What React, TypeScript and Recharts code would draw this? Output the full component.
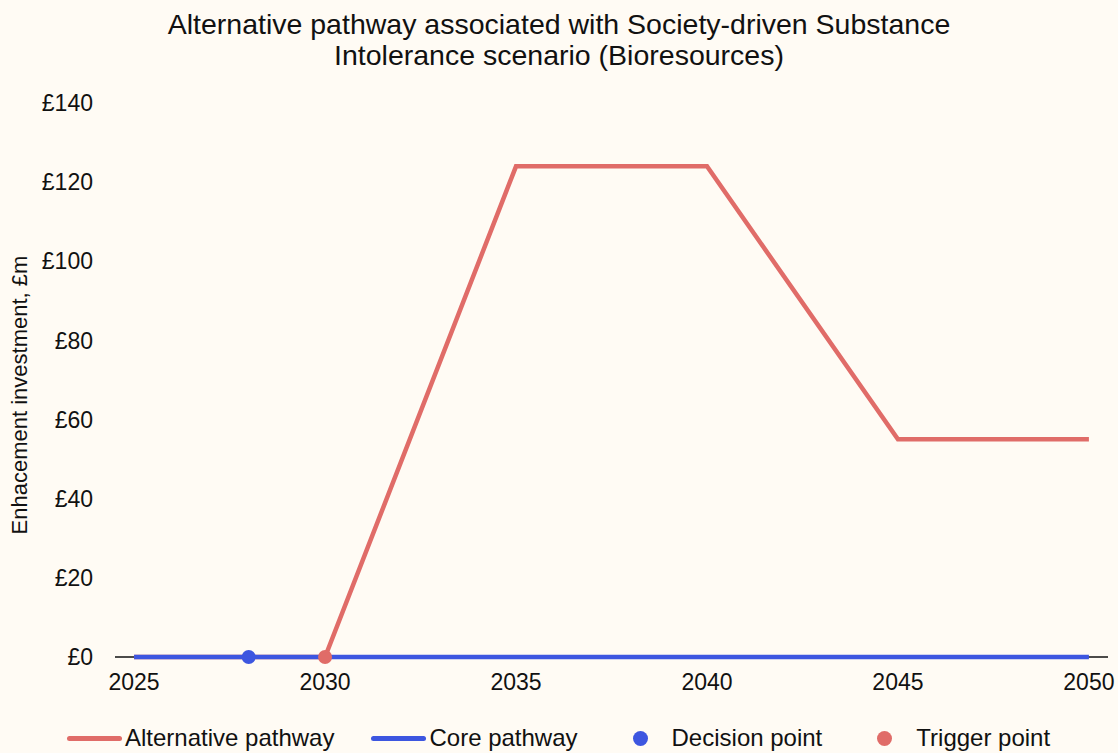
import React from "react";
import {
  ComposedChart,
  Line,
  Scatter,
  XAxis,
  YAxis,
  Legend,
} from "recharts";

const years = [2025, 2030, 2035, 2040, 2045, 2050];
const alternativeValues = [0, 0, 124, 124, 55, 55];
const coreValues = [0, 0, 0, 0, 0, 0];
const decisionYears = [2028];
const triggerYears = [2030];
const yTicks = [0, 20, 40, 60, 80, 100, 120, 140];

const RED = "#E06C68";
const BLUE = "#3D56E0";
const BG = "#FFFBF4";
const FONT = "'Liberation Sans', Arial, sans-serif";

const alternative = years.map((year, i) => ({ year, value: alternativeValues[i] }));
const core = years.map((year, i) => ({ year, value: coreValues[i] }));
const decision = decisionYears.map((year) => ({ year, value: 0 }));
const trigger = triggerYears.map((year) => ({ year, value: 0 }));

const legendItems = [
  { label: "Alternative pathway", color: RED, kind: "line", gap: 67 },
  { label: "Core pathway", color: BLUE, kind: "line", gap: 37 },
  { label: "Decision point", color: BLUE, kind: "dot", gap: 55 },
  { label: "Trigger point", color: RED, kind: "dot", gap: 55 },
];

const dot = (color: string) => (props: any) =>
  <circle cx={props.cx} cy={props.cy} r={7} fill={color} />;

const LegendRow = () => (
  <div style={{ display: "flex", alignItems: "center", height: 30, fontFamily: FONT, fontSize: 24, color: "#111" }}>
    {legendItems.map((it) => (
      <div key={it.label} style={{ display: "flex", alignItems: "center", marginLeft: it.gap }}>
        {it.kind === "line" ? (
          <span style={{ display: "inline-block", width: 55, height: 5, borderRadius: 3, background: it.color, marginRight: 3 }} />
        ) : (
          <span style={{ display: "inline-block", width: 15, height: 15, borderRadius: 8, background: it.color, marginRight: 24 }} />
        )}
        <span>{it.label}</span>
      </div>
    ))}
  </div>
);

// vertical axis title, sitting a little below the plot's middle
const YTitle = (props: any) => {
  const vb = props.viewBox;
  const x = 27;
  const y = vb.y + vb.height / 2 + 15;
  return (
    <text
      x={x}
      y={y}
      transform={`rotate(-90, ${x}, ${y})`}
      textAnchor="middle"
      fill="#111"
      fontSize={22}
    >
      Enhacement investment, £m
    </text>
  );
};

export default function App() {
  return (
    <div style={{ position: "absolute", left: 0, top: 0, width: 1118, height: 753, background: BG }}>
      <div
        style={{
          position: "absolute",
          top: 9,
          left: 0,
          width: 1118,
          textAlign: "center",
          fontFamily: FONT,
          fontSize: 28.5,
          lineHeight: "31px",
          color: "#111",
        }}
      >
        Alternative pathway associated with Society-driven Substance
        <br />
        Intolerance scenario (Bioresources)
      </div>
      <ComposedChart
        width={1118}
        height={753}
        margin={{ top: 103, right: 10, bottom: 0, left: 0 }}
        style={{ fontFamily: FONT }}
      >
        <XAxis
          type="number"
          dataKey="year"
          domain={[2024.5, 2050.5]}
          ticks={years}
          tickLine={false}
          tickSize={0}
          tickMargin={17}
          height={66}
          axisLine={{ stroke: "#111", strokeWidth: 1.5 }}
          tick={{ fill: "#111", fontSize: 23 }}
        />
        <YAxis
          type="number"
          domain={[0, 140]}
          ticks={yTicks}
          tickFormatter={(v) => `£${v}`}
          axisLine={false}
          tickLine={false}
          tickSize={0}
          tickMargin={22}
          width={115}
          tick={{ fill: "#111", fontSize: 23 }}
          label={{ content: YTitle }}
        />
        <Legend
          verticalAlign="bottom"
          content={() => <LegendRow />}
        />
        <Line
          data={alternative}
          dataKey="value"
          type="linear"
          stroke={RED}
          strokeWidth={4.5}
          dot={false}
          activeDot={false}
          zIndex={1000}
          isAnimationActive={false}
        />
        <Line
          data={core}
          dataKey="value"
          type="linear"
          stroke={BLUE}
          strokeWidth={4.5}
          dot={false}
          activeDot={false}
          zIndex={1001}
          isAnimationActive={false}
        />
        <Scatter data={decision} dataKey="value" shape={dot(BLUE)} zIndex={1002} isAnimationActive={false} />
        <Scatter data={trigger} dataKey="value" shape={dot(RED)} zIndex={1002} isAnimationActive={false} />
      </ComposedChart>
    </div>
  );
}
